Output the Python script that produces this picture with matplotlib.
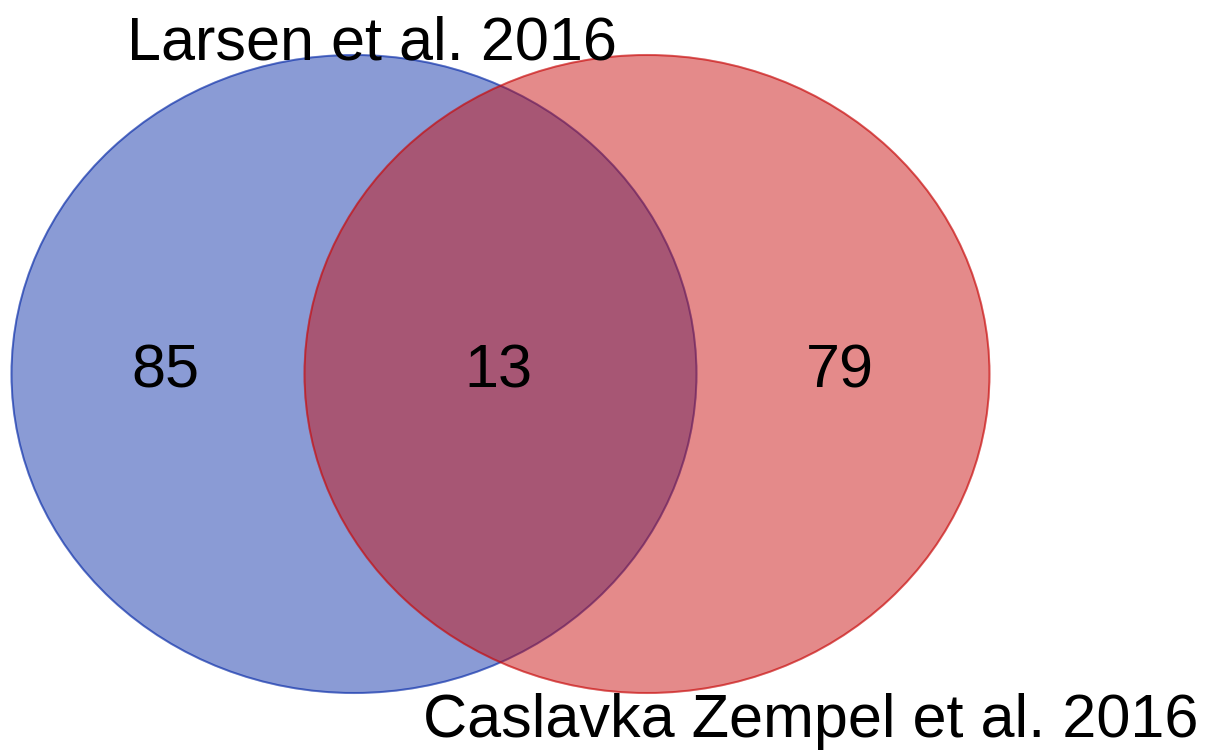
import matplotlib.pyplot as plt
from matplotlib.patches import Ellipse

set_names = ['Larsen et al. 2016', 'Caslavka Zempel et al. 2016']
region_counts = [85, 13, 79]   # only A, A and B, only B
set_colors = ['#0B2EA9', '#C80B0B']

fig = plt.figure(figsize=(12.1, 7.52), dpi=100)
ax = fig.add_axes([0, 0, 1, 1])
ax.set_xlim(0, 1210)
ax.set_ylim(752, 0)
ax.set_aspect('equal')
ax.axis('off')

# two sets, same size
centers = [(354, 374), (647, 374)]
for (cx, cy), col in zip(centers, set_colors):
    ax.add_patch(Ellipse((cx, cy), 685, 638, facecolor=col, edgecolor=col,
                         alpha=0.48, lw=1.5))
    # slightly stronger outline
    ax.add_patch(Ellipse((cx, cy), 685, 638, facecolor='none', edgecolor=col,
                         alpha=0.4, lw=1.2))

font = 'Liberation Sans'
ax.text(372, 44, set_names[0], fontsize=44, family=font, ha='center', va='center')
ax.text(811, 722, set_names[1], fontsize=44, family=font, ha='center', va='center')

label_x = [165, 498, 840]
for x, n in zip(label_x, region_counts):
    ax.text(x, 372, str(n), fontsize=44, family=font, ha='center', va='center')

fig.savefig('out.png', dpi=100)
